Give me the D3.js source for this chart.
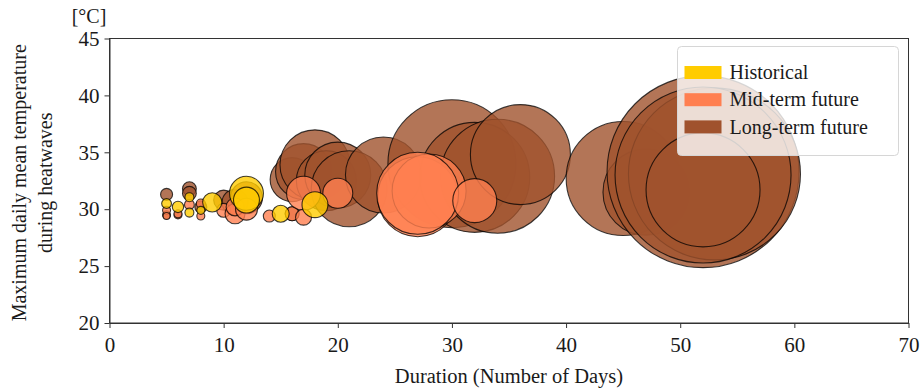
<!DOCTYPE html>
<html>
<head>
<meta charset="utf-8">
<script src="https://cdn.jsdelivr.net/npm/d3@7"></script>
<style>
  body { margin: 0; background: #fff; }
  text { font-family: "Liberation Serif", "Times New Roman", serif; fill: #1a1a1a; }
  .domain, .tick line { stroke: #333; }
</style>
</head>
<body>
<div id="wrapper"></div>
<script>
// [duration (days), max daily mean temperature (°C), magnitude]
const longTerm = [
  [5, 31.3, 9], [5, 29.5, 4], [6, 29.5, 4], [7, 31.8, 12], [7, 31.4, 12],
  [8, 30.2, 9], [10, 30.8, 25], [11, 30.6, 42], [12, 31.0, 64],
  [16, 32.6, 121], [16, 29.6, 12], [17, 33.3, 196], [18, 33.9, 306],
  [19, 32.5, 225], [20, 33.0, 272], [21, 31.8, 361], [24, 33.0, 361],
  [30, 34.0, 1024], [32, 32.8, 756], [34, 32.9, 812], [36, 34.8, 625],
  [45, 32.7, 812], [47, 31.5, 462], [52, 33.3, 2304], [53, 33.1, 1849],
  [52, 33.0, 1936], [52, 31.7, 812],
]
const midTerm = [
  [5, 29.9, 4], [5, 29.4, 3], [6, 29.6, 4], [7, 30.4, 6], [8, 30.5, 5],
  [8, 29.4, 4], [10, 29.9, 12], [11, 29.6, 25], [11, 30.2, 20], [12, 30.0, 30],
  [14, 29.4, 9], [16, 29.6, 12], [17, 31.4, 72], [17, 29.3, 16], [20, 31.4, 56],
  [27, 31.1, 400], [28, 31.6, 342], [27, 31.4, 420], [32, 30.75, 121],
]
const historical = [
  [5, 30.5, 6], [6, 30.2, 8], [7, 31.05, 5], [7, 29.7, 5], [8, 29.9, 4],
  [9, 30.6, 23], [12, 31.4, 72], [12, 30.8, 42], [15, 29.6, 18], [18, 30.4, 42],
]
const seriesNames = ["Historical", "Mid-term future", "Long-term future"]
const seriesColors = ["#ffcc00", "#ff7f50", "#a0522d"]
const xTicks = [0, 10, 20, 30, 40, 50, 60, 70]
const yTicks = [20, 25, 30, 35, 40, 45]

function drawBubbleChart() {
  const xAccessor = d => d[0]
  const yAccessor = d => d[1]
  const sizeAccessor = d => d[2]

  // 1. dimensions
  let dimensions = {
    width: 921,
    height: 391,
    margin: { top: 38.5, right: 12.5, bottom: 68, left: 109.5 },
  }
  dimensions.boundedWidth = dimensions.width - dimensions.margin.left - dimensions.margin.right
  dimensions.boundedHeight = dimensions.height - dimensions.margin.top - dimensions.margin.bottom

  // 2. canvas
  const svg = d3.select("#wrapper").append("svg")
    .attr("width", dimensions.width)
    .attr("height", dimensions.height)

  const bounds = svg.append("g")
    .attr("transform", `translate(${dimensions.margin.left}, ${dimensions.margin.top})`)

  // 3. scales
  const xScale = d3.scaleLinear()
    .domain([0, 70])
    .range([0, dimensions.boundedWidth])

  const yScale = d3.scaleLinear()
    .domain([20, 45])
    .range([dimensions.boundedHeight, 0])

  const rScale = d3.scaleSqrt()
    .domain([0, 2500])
    .range([0, 100])

  const colorScale = d3.scaleOrdinal()
    .domain(seriesNames)
    .range(seriesColors)

  // 4. bubbles (long-term at the back, historical on top)
  const layers = [
    { name: "Long-term future", data: longTerm },
    { name: "Mid-term future", data: midTerm },
    { name: "Historical", data: historical },
  ]
  layers.forEach(layer => {
    bounds.append("g")
      .selectAll("circle")
      .data(layer.data)
      .join("circle")
      .attr("cx", d => xScale(xAccessor(d)))
      .attr("cy", d => yScale(yAccessor(d)))
      .attr("r", d => rScale(sizeAccessor(d)))
      .attr("fill", colorScale(layer.name))
      .attr("fill-opacity", 0.8)
      .attr("stroke", "#000")
      .attr("stroke-opacity", 0.75)
      .attr("stroke-width", 1.1)
  })

  // 5. axes + frame
  const xAxis = bounds.append("g")
    .attr("transform", `translate(0, ${dimensions.boundedHeight})`)
    .call(d3.axisBottom(xScale).tickValues(xTicks).tickSize(5).tickSizeOuter(0))
  xAxis.selectAll("text")
    .attr("dy", "1.0em")
    .style("font-size", "21px")

  const yAxis = bounds.append("g")
    .call(d3.axisLeft(yScale).tickValues(yTicks).tickSize(5).tickSizeOuter(0))
  yAxis.selectAll("text")
    .attr("x", -10)
    .style("font-size", "21px")
  svg.selectAll(".tick text").style("font-family", "Liberation Serif").attr("fill", "#1a1a1a")

  bounds.append("rect")
    .attr("width", dimensions.boundedWidth)
    .attr("height", dimensions.boundedHeight)
    .attr("fill", "none")
    .attr("stroke", "#333")

  // 6. labels
  svg.append("text")
    .attr("x", dimensions.margin.left + xScale(35))
    .attr("y", 383)
    .attr("text-anchor", "middle")
    .style("font-size", "20.5px")
    .text("Duration (Number of Days)")

  const yLabel = svg.append("text")
    .attr("transform", `translate(0, ${dimensions.margin.top + dimensions.boundedHeight / 2 + 2}) rotate(-90)`)
    .attr("text-anchor", "middle")
    .style("font-size", "20px")
  yLabel.append("tspan").attr("x", 0).attr("y", 26).text("Maximum daily mean temperature")
  yLabel.append("tspan").attr("x", 0).attr("y", 52).text("during heatwaves")

  svg.append("text")
    .attr("x", 89)
    .attr("y", 23)
    .attr("text-anchor", "middle")
    .style("font-size", "20px")
    .text("[°C]")

  // 7. legend
  const legend = svg.append("g")
    .attr("transform", "translate(677.5, 46.5)")
  legend.append("rect")
    .attr("width", 221)
    .attr("height", 109)
    .attr("rx", 4)
    .attr("fill", "#fff")
    .attr("fill-opacity", 0.8)
    .attr("stroke", "#d6d6d6")

  const items = legend.selectAll(".item")
    .data(seriesNames)
    .join("g")
    .attr("class", "item")
    .attr("transform", (d, i) => `translate(0, ${26 + i * 27.2})`)
  items.append("rect")
    .attr("x", 7)
    .attr("y", -6.5)
    .attr("width", 37)
    .attr("height", 13)
    .attr("fill", d => colorScale(d))
  items.append("text")
    .attr("x", 52)
    .attr("dy", "0.33em")
    .style("font-size", "20px")
    .text(d => d)
}
drawBubbleChart()
</script>
</body>
</html>
